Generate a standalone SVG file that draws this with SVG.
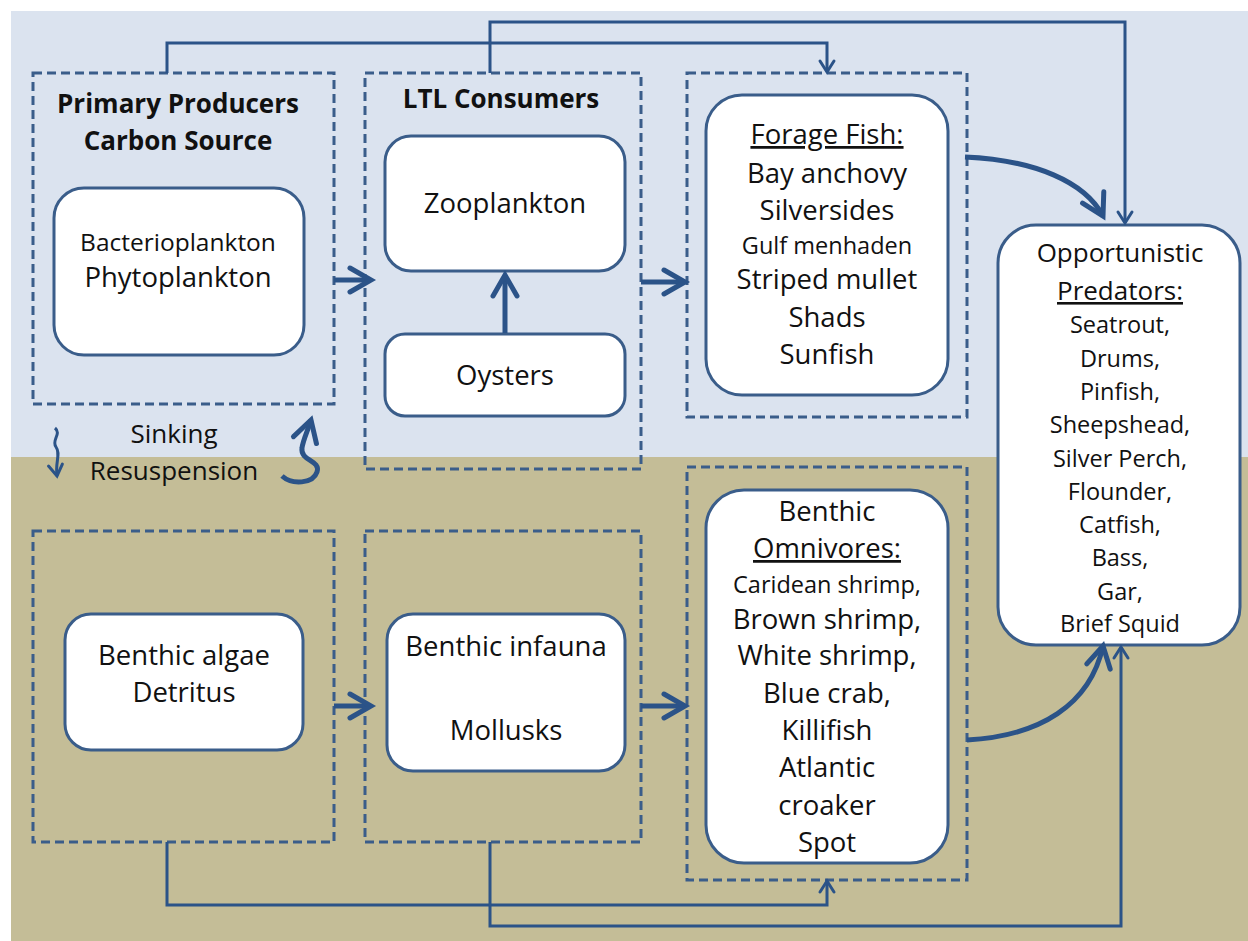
<svg xmlns="http://www.w3.org/2000/svg" width="1248" height="941" viewBox="0 0 1248 941">
<defs>
<style>
.dash{fill:none;stroke:#3a5d8a;stroke-width:3;stroke-dasharray:9 5}
.node{fill:#ffffff;stroke:#3a5d8a;stroke-width:3}
.t{font-family:"Open Sans","Noto Sans","Liberation Sans",sans-serif;fill:#111;text-anchor:middle}
.b{font-weight:bold}
.bf{font-size:26px}
.f26{font-size:27.5px}
.f25{font-size:26px}
.f22{font-size:23.5px}
.f23{font-size:24.5px}
.thick{fill:none;stroke:#2b5388;stroke-width:5}
.thin{fill:none;stroke:#2b5388;stroke-width:3}
</style>
<marker id="chev" markerUnits="userSpaceOnUse" markerWidth="40" markerHeight="40" viewBox="-30 -20 40 40" refX="0" refY="0" orient="auto" overflow="visible">
<path d="M-21,-12 L0,0 L-21,12" fill="none" stroke="#2b5388" stroke-width="5" stroke-linecap="round"/>
</marker>
<marker id="chevs" markerUnits="userSpaceOnUse" markerWidth="30" markerHeight="30" viewBox="-20 -15 30 30" refX="0" refY="0" orient="auto" overflow="visible">
<path d="M-11,-7 L0,0 L-11,7" fill="none" stroke="#2b5388" stroke-width="3" stroke-linecap="round"/>
</marker>
</defs>
<rect x="0" y="0" width="1248" height="941" fill="#ffffff"/>
<rect x="11" y="11" width="1237" height="447" fill="#dbe3ef"/>
<rect x="11" y="457" width="1237" height="484" fill="#c4bd97"/>

<g id="group-primary">
<rect class="dash" x="33" y="73" width="301" height="331"/>
<text class="t b bf" x="178" y="113">Primary Producers</text>
<text class="t b bf" x="178" y="150">Carbon Source</text>
</g>
<g id="group-ltl">
<rect class="dash" x="365" y="73" width="276" height="396"/>
<text class="t b bf" x="501" y="108">LTL Consumers</text>
</g>
<g id="group-forage">
<rect class="dash" x="687" y="73" width="280" height="344"/>
</g>
<g id="group-algae">
<rect class="dash" x="33" y="531" width="301" height="311"/>
</g>
<g id="group-infauna">
<rect class="dash" x="365" y="531" width="276" height="311"/>
</g>
<g id="group-omnivores">
<rect class="dash" x="687" y="467" width="280" height="413"/>
</g>

<g id="node-phyto">
<rect class="node" x="54" y="188" width="250" height="167" rx="30"/>
<text class="t f23" x="178" y="251">Bacterioplankton</text>
<text class="t f26" x="178" y="287">Phytoplankton</text>
</g>
<g id="node-zoo">
<rect class="node" x="385" y="136" width="240" height="135" rx="26"/>
<text class="t f26" x="505" y="213">Zooplankton</text>
</g>
<g id="node-oysters">
<rect class="node" x="385" y="334" width="240" height="82" rx="20"/>
<text class="t f26" x="505" y="385">Oysters</text>
</g>
<g id="node-forage">
<rect class="node" x="706" y="95" width="242" height="300" rx="36"/>
<text class="t f26" x="827" y="144" text-decoration="underline">Forage Fish:</text>
<text class="t f26" x="827" y="183">Bay anchovy</text>
<text class="t f26" x="827" y="220">Silversides</text>
<text class="t f22" x="827" y="254">Gulf menhaden</text>
<text class="t f26" x="827" y="289">Striped mullet</text>
<text class="t f26" x="827" y="327">Shads</text>
<text class="t f26" x="827" y="364">Sunfish</text>
</g>
<g id="node-predators">
<rect class="node" x="998" y="225" width="242" height="420" rx="38"/>
<text class="t f25" x="1120" y="262">Opportunistic</text>
<text class="t f25" x="1120" y="300" text-decoration="underline">Predators:</text>
<text class="t f22" x="1120" y="333">Seatrout,</text>
<text class="t f22" x="1120" y="367">Drums,</text>
<text class="t f22" x="1120" y="400">Pinfish,</text>
<text class="t f22" x="1120" y="433">Sheepshead,</text>
<text class="t f22" x="1120" y="467">Silver Perch,</text>
<text class="t f22" x="1120" y="500">Flounder,</text>
<text class="t f22" x="1120" y="533">Catfish,</text>
<text class="t f22" x="1120" y="566">Bass,</text>
<text class="t f22" x="1120" y="600">Gar,</text>
<text class="t f22" x="1120" y="632">Brief Squid</text>
</g>
<g id="node-algae">
<rect class="node" x="65" y="614" width="238" height="136" rx="26"/>
<text class="t f26" x="184" y="665">Benthic algae</text>
<text class="t f26" x="184" y="702">Detritus</text>
</g>
<g id="node-infauna">
<rect class="node" x="387" y="614" width="238" height="157" rx="26"/>
<text class="t f26" x="506" y="656">Benthic infauna</text>
<text class="t f26" x="506" y="740">Mollusks</text>
</g>
<g id="node-omni">
<rect class="node" x="706" y="490" width="242" height="373" rx="38"/>
<text class="t f26" x="827" y="521">Benthic</text>
<text class="t f26" x="827" y="558" text-decoration="underline">Omnivores:</text>
<text class="t f22" x="827" y="593">Caridean  shrimp,</text>
<text class="t f26" x="827" y="629">Brown shrimp,</text>
<text class="t f26" x="827" y="665">White shrimp,</text>
<text class="t f26" x="827" y="703">Blue crab,</text>
<text class="t f26" x="827" y="740">Killifish</text>
<text class="t f26" x="827" y="777">Atlantic</text>
<text class="t f26" x="827" y="815">croaker</text>
<text class="t f26" x="827" y="852">Spot</text>
</g>

<g id="labels">
<text class="t f25" x="174" y="443">Sinking</text>
<text class="t f25" x="174" y="480">Resuspension</text>
</g>

<g id="connectors">
<path class="thick" d="M334,280 H371" marker-end="url(#chev)"/>
<path class="thick" d="M641,282 H685" marker-end="url(#chev)"/>
<path class="thick" d="M505,333 V275" marker-end="url(#chev)"/>
<path class="thick" d="M334,706 H371" marker-end="url(#chev)"/>
<path class="thick" d="M641,706 H685" marker-end="url(#chev)"/>
<path class="thick" d="M965,157 C1035,160 1085,182 1103,216" marker-end="url(#chev)"/>
<path class="thick" d="M967,740 C1040,736 1090,705 1103,646" marker-end="url(#chev)"/>
<path class="thin" d="M167,73 V43 H827 V72" marker-end="url(#chevs)"/>
<path class="thin" d="M490,73 V22 H1125 V223" marker-end="url(#chevs)"/>
<path class="thin" d="M167,842 V905 H827 V881" marker-end="url(#chevs)"/>
<path class="thin" d="M490,842 V926 H1121 V647" marker-end="url(#chevs)"/>
<path class="thin" d="M55,428 C62,434 51,440 56,447 C61,454 55,462 57,476" stroke-width="2.5" marker-end="url(#chevs)"/>
<path class="thick" d="M282,476 C292,485 313,484 317,472 C321,460 300,461 302,448 C303,440 308,430 311,420" marker-end="url(#chev)"/>
</g>
</svg>
